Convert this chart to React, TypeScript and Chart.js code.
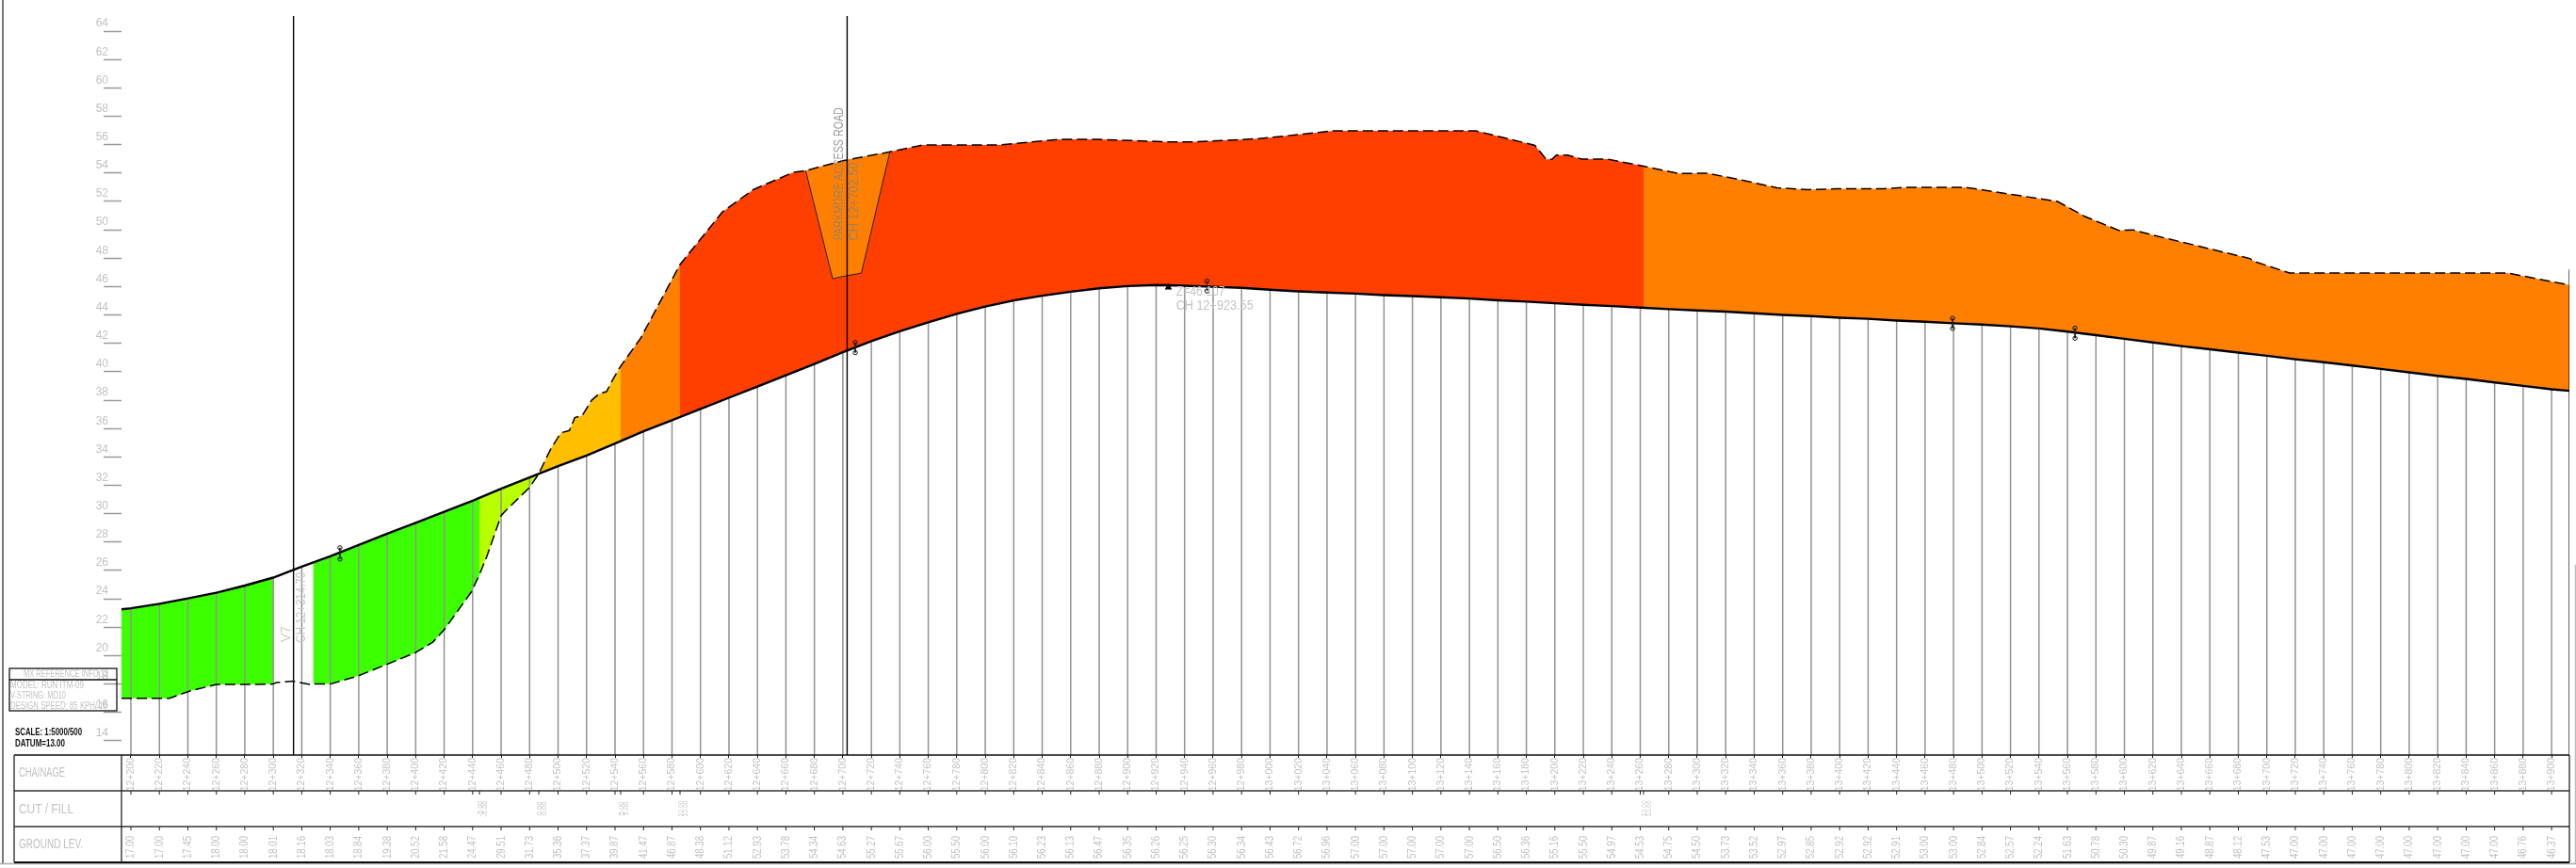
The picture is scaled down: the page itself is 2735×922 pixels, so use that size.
import React, { useEffect, useRef } from "react";
import { Chart, registerables } from "chart.js";

Chart.register(...registerables);

const levelTicks = [14,16,18,20,22,24,26,28,30,32,34,36,38,40,42,44,46,48,50,52,54,56,58,60,62,64];

const chainages = [
  12200,12220,12240,12260,12280,12300,12320,12340,12360,12380,12400,12420,12440,12460,12480,12500,12520,12540,12560,12580,
  12600,12620,12640,12660,12680,12700,12720,12740,12760,12780,12800,12820,12840,12860,12880,12900,12920,12940,12960,12980,
  13000,13020,13040,13060,13080,13100,13120,13140,13160,13180,13200,13220,13240,13260,13280,13300,13320,13340,13360,13380,
  13400,13420,13440,13460,13480,13500,13520,13540,13560,13580,13600,13620,13640,13660,13680,13700,13720,13740,13760,13780,
  13800,13820,13840,13860,13880,13900,
];

const designLevels = [
  23.34,23.65,24.03,24.43,24.94,25.50,26.28,27.00,27.80,28.59,29.35,30.14,30.92,31.76,32.56,33.35,34.10,34.94,35.80,36.59,
  37.38,38.17,38.95,39.76,40.55,41.38,42.16,42.85,43.48,44.08,44.59,45.03,45.36,45.64,45.88,46.04,46.11,46.06,45.99,45.91,
  45.78,45.66,45.58,45.51,45.40,45.33,45.25,45.16,45.03,44.94,44.83,44.72,44.63,44.52,44.41,44.32,44.24,44.12,44.01,43.92,
  43.81,43.73,43.61,43.53,43.42,43.33,43.20,43.05,42.83,42.58,42.32,42.07,41.81,41.59,41.35,41.13,40.88,40.67,40.44,40.20,
  39.96,39.71,39.50,39.25,39.01,38.77,
];

const tableGroundLevels = [
  "17.00","17.00","17.45","18.00","18.00","18.01","18.16","18.03","18.84","19.38","20.52","21.58","24.47","29.51","31.73","35.36","37.37","39.87","41.47","46.87",
  "48.38","51.12","52.93","53.78","54.34","54.63","55.27","55.67","56.00","55.50","56.00","56.10","56.23","56.13","56.47","56.35","56.26","56.25","56.30","56.34",
  "56.43","56.72","56.96","57.00","57.00","57.00","57.00","57.00","56.50","56.36","55.16","55.50","54.97","54.53","54.75","54.50","53.73","53.52","52.97","52.85",
  "52.92","52.92","52.91","53.00","53.00","52.84","52.57","52.24","51.63","50.78","50.30","49.87","49.16","48.87","48.12","47.53","47.00","47.00","47.00","47.00",
  "47.00","47.00","47.00","47.00","46.76","46.37",
];

const axisStart = 12193.4;
const axisEnd = 13912.5;
const levelMin = 13;
const levelMax = 65.86;
const designStartLevel = 23.26;
const designEndLevel = 38.66;

const groundChainage = [
  12193.4,12200,12220,12227,12242,12260,12280,12300,12302,12314,12326,12328,12340,12360,12380,12400,12412,12420,12439,12444.75,
  12450,12460,12463,12480,12486.421,12495,12502,12508,12511.7,12517,12523.6,12529,12534,12539,12543.967,12558,12585.638,12600,12615.4,12637,
  12665,12673.9,12700,12733,12756,12809,12852,12880,12928,12946,12992,13034,13044,13144.6,13180,13186,13194,13198,13201,13209,13219,13237,13262.298,
  13287,13307,13332,13356,13378,13398,13431,13448,13488,13553,13572,13596,13606,13619,13629,13688,13691,13716,13869,13912.5,
];
const groundLevel = [
  17.0,17.0,17.0,17.0,17.53,17.97,17.97,18.0,18.1,18.2,17.97,18.0,18.0,18.59,19.4,20.22,20.95,21.83,24.47,25.7,
  27.0,29.87,30.2,31.85,32.82,34.6,35.7,35.86,36.77,36.92,38.0,38.46,38.6,39.56,40.4,42.37,47.56,49.34,51.26,52.83,
  54.04,54.17,54.87,55.49,55.97,55.97,56.37,56.37,56.2,56.2,56.42,56.86,56.97,56.97,56.1,55.95,54.96,54.96,55.27,55.27,54.98,54.98,54.48,
  53.97,53.99,53.49,52.96,52.83,52.89,52.89,53.0,53.0,52.0,50.95,49.96,50.0,49.66,49.41,47.98,47.78,46.96,46.96,46.11,
];

const zoneStart = [12193.4,12328,12444.75,12486.421,12543.967,12585.638,13262.298];
const zoneEnd = [12300,12444.75,12486.421,12543.967,12585.638,13262.298,13912.5];
const zoneColour = ["#3cff00","#3cff00","#b8ff00","#ffbf00","#ff7f00","#ff3f00","#ff7f00"];

const pitChainage = [12673.9,12692.8,12700,12713,12733];
const pitLevel = [54.17,46.55,46.72,46.95,55.49];

const markerChainage = [12346.8,12346.8,12708.7,12708.7,12955.7,12955.7,13479.3,13479.3,13565.3,13565.3];
const markerLevel = [27.6,26.81,42.07,41.35,46.39,45.69,43.77,43.05,43.07,42.36];

const crownChainage = 12928.6;
const crownLevel = 45.95;

const crossingChainage = [12314.2,12703];
const crossingTop = 65.07;
const endLineTop = 47.2;

const cutFillChainage = [12444.75,12486.421,12543.967,12585.638,13262.298];
const cutFillText = ["-5.00","0.00","5.00","10.00","10.00"];

const rowTitles = ["CHAINAGE","CUT / FILL","GROUND LEV."];
const infoTitle = "MX REFERENCE INFO 13";
const infoLines = ["MODEL: RUN ITM-09","V-STRING: MD10","DESIGN SPEED: 85 KPH/ 16"];

const SANS = '"Liberation Sans",sans-serif';
const FAINT = "#c2c2c2";

function vtext(ctx: CanvasRenderingContext2D, s: string, x: number, y: number, font: string, color: string, maxW: number) {
  ctx.save();
  ctx.translate(x, y);
  ctx.rotate(-Math.PI / 2);
  ctx.font = font;
  ctx.fillStyle = color;
  ctx.textAlign = "center";
  ctx.textBaseline = "middle";
  ctx.fillText(s, 0, 0, maxW);
  ctx.restore();
}

function hline(ctx: CanvasRenderingContext2D, x0: number, x1: number, y: number, w: number, c: string) {
  ctx.strokeStyle = c;
  ctx.lineWidth = w;
  ctx.beginPath();
  ctx.moveTo(x0, y);
  ctx.lineTo(x1, y);
  ctx.stroke();
}
function vline(ctx: CanvasRenderingContext2D, x: number, y0: number, y1: number, w: number, c: string) {
  ctx.strokeStyle = c;
  ctx.lineWidth = w;
  ctx.beginPath();
  ctx.moveTo(x, y0);
  ctx.lineTo(x, y1);
  ctx.stroke();
}

const drawingFurniture = {
  id: "drawingFurniture",
  afterDatasetsDraw(chart: any) {
    const { ctx, scales } = chart;
    const xs = scales.x;
    const ys = scales.y;
    const L = 15, C = 129, R = 2728, T = 802, R1 = 840, R2 = 878, B = 916;
    ctx.save();

    // sheet frame
    vline(ctx, 3, 0, 917, 2, "#777");
    hline(ctx, 0, 2735, 917.5, 1.5, "#aaa");
    vline(ctx, 2734.5, 600, 917, 1.5, "#bbb");

    // table
    hline(ctx, L, R, T, 1.3, "#111");
    hline(ctx, L, R, R1, 1.6, "#333");
    hline(ctx, L, R, R2, 1.6, "#333");
    hline(ctx, L, R, B, 2, "#111");
    vline(ctx, L, T, B, 1.3, "#222");
    vline(ctx, C, T, B, 1.3, "#222");
    vline(ctx, R, T, B, 1.3, "#222");

    const titleWidths = [49, 58, 68];
    rowTitles.forEach((t, i) => {
      ctx.font = `14px ${SANS}`;
      ctx.fillStyle = FAINT;
      ctx.textAlign = "left";
      ctx.textBaseline = "middle";
      ctx.fillText(t, 20, [821, 860, 897][i], titleWidths[i]);
    });

    chainages.forEach((c, i) => {
      const x = xs.getPixelForValue(c);
      vline(ctx, x, R1, R1 + 4, 1, "#222");
      vline(ctx, x, R2, R2 + 4, 1, "#222");
      vtext(ctx, tableGroundLevels[i], x, 900, `12.5px ${SANS}`, FAINT, 24);
    });

    cutFillChainage.forEach((c, i) => {
      const x = xs.getPixelForValue(c);
      vline(ctx, x, R1, R1 + 4, 1, "#222");
      vtext(ctx, cutFillText[i], x + 0.5, 859, `7.5px ${SANS}`, FAINT, 17);
      vtext(ctx, cutFillText[i], x + 5.5, 859, `7.5px ${SANS}`, FAINT, 17);
    });

    // reference box
    ctx.strokeStyle = "#111";
    ctx.lineWidth = 1.3;
    ctx.strokeRect(10, 710, 114, 45);
    hline(ctx, 10, 124, 722, 1.3, "#111");
    ctx.font = `10px ${SANS}`;
    ctx.fillStyle = FAINT;
    ctx.textBaseline = "middle";
    ctx.textAlign = "center";
    ctx.fillText(infoTitle, 70, 716, 90);
    ctx.textAlign = "left";
    const infoWidths = [78, 59, 103];
    infoLines.forEach((t, i) => ctx.fillText(t, 11, 728 + i * 11.3, infoWidths[i]));

    // scale note
    ctx.font = `bold 11px ${SANS}`;
    ctx.fillStyle = "#111";
    ctx.fillText("SCALE: 1:5000/500", 16, 777.5, 71);
    ctx.fillText("DATUM=13.00", 16, 790, 53);

    // annotations
    const dark = "rgba(130,130,130,0.8)";
    const px = (c: number) => xs.getPixelForValue(c);
    const py = (v: number) => ys.getPixelForValue(v);
    vtext(ctx, "PARKMORE ACCESS ROAD", px(12697.5), py(53.94), `14px ${SANS}`, dark, 141);
    vtext(ctx, "CH 12+702.50", px(12708), py(52), `14px ${SANS}`, dark, 83);
    vtext(ctx, "V7", px(12309.5), py(21.52), `14px ${SANS}`, "#c8c8c8", 20);
    vtext(ctx, "CH 12+314.70", px(12319.5), py(23.4), `14px ${SANS}`, "#c8c8c8", 75);
    ctx.font = `14px ${SANS}`;
    ctx.fillStyle = "#c4c4c4";
    ctx.textAlign = "left";
    ctx.fillText("Z=46.107", px(12934), py(45.63), 52);
    ctx.fillText("CH 12+923.55", px(12934), py(44.65), 82);
    ctx.restore();
  },
};

export default function App() {
  const ref = useRef<HTMLCanvasElement | null>(null);
  useEffect(() => {
    document.body.style.margin = "0";
    const ground = groundChainage.map((x, i) => ({ x, y: groundLevel[i] }));
    const design = [
      { x: axisStart, y: designStartLevel },
      ...chainages.map((x, i) => ({ x, y: designLevels[i] })),
      { x: axisEnd, y: designEndLevel },
    ];
    const DESIGN = 0;
    const GROUND = 1;
    const datasets: any[] = [
      { type: "line", data: design, borderColor: "#000", borderWidth: 2.4, pointRadius: 0, fill: false, order: 2 },
      { type: "line", data: ground, borderColor: "#000", borderWidth: 1.5, borderDash: [11, 5], pointRadius: 0, fill: false, order: 2 },
      ...zoneColour.map((c, i) => ({
        type: "line",
        data: ground.filter((p) => p.x >= zoneStart[i] && p.x <= zoneEnd[i]),
        borderWidth: 0,
        pointRadius: 0,
        fill: { target: DESIGN, above: c, below: c },
        order: 10,
      })),
      {
        type: "line",
        data: pitChainage.map((x, i) => ({ x, y: pitLevel[i] })),
        borderColor: "#222",
        borderWidth: 1,
        pointRadius: 0,
        fill: { target: GROUND, above: "#ff7f00", below: "#ff7f00" },
        order: 9,
      },
      {
        type: "bar",
        data: chainages.map((x, i) => ({ x, y: designLevels[i] })),
        backgroundColor: "#939393",
        barThickness: 1.5,
        inflateAmount: 0,
        borderWidth: 0,
        grouped: false,
        order: 5,
      },
      ...crossingChainage.map((x) => ({
        type: "line",
        data: [{ x, y: levelMin }, { x, y: crossingTop }],
        borderColor: "#000",
        borderWidth: 1.4,
        pointRadius: 0,
        fill: false,
        order: 1,
      })),
      {
        type: "line",
        data: [{ x: axisEnd, y: levelMin }, { x: axisEnd, y: endLineTop }],
        borderColor: "#000",
        borderWidth: 1.2,
        pointRadius: 0,
        fill: false,
        order: 1,
      },
      ...markerChainage
        .filter((_, i) => i % 2 === 0)
        .map((_, k) => ({
          type: "line",
          data: [
            { x: markerChainage[k * 2], y: markerLevel[k * 2] },
            { x: markerChainage[k * 2 + 1], y: markerLevel[k * 2 + 1] },
          ],
          borderColor: "#222",
          borderWidth: 1,
          pointRadius: 2.2,
          pointBorderWidth: 1,
          pointBorderColor: "#111",
          pointBackgroundColor: "rgba(0,0,0,0)",
          fill: false,
          order: 0,
        })),
      {
        type: "line",
        data: [{ x: crownChainage, y: crownLevel }],
        pointStyle: "triangle",
        pointRadius: 4.5,
        pointBackgroundColor: "#000",
        pointBorderColor: "#000",
        pointBorderWidth: 0,
        showLine: false,
        order: 0,
      },
    ];
    const chart = new Chart(ref.current as HTMLCanvasElement, {
      type: "line",
      data: { datasets },
      plugins: [drawingFurniture],
      options: {
        animation: false,
        responsive: false,
        devicePixelRatio: 1,
        layout: { padding: { left: 0, right: 7, top: 0, bottom: 0 } },
        plugins: { legend: { display: false }, tooltip: { enabled: false }, title: { display: false } },
        elements: { line: { tension: 0 } },
        scales: {
          x: {
            type: "linear",
            min: axisStart,
            max: axisEnd,
            offset: false,
            afterBuildTicks: (s: any) => {
              s.ticks = chainages.map((value) => ({ value }));
            },
            afterFit: (s: any) => {
              s.height = 120;
            },
            border: { display: false },
            grid: { offset: false, drawOnChartArea: false, drawTicks: true, tickLength: 3, tickColor: "#222", tickWidth: 1 },
            ticks: {
              autoSkip: false,
              minRotation: 90,
              maxRotation: 90,
              padding: 0,
              color: FAINT,
              font: { family: SANS, size: 10.5 },
              callback: (v: any) => `${Math.floor(Number(v) / 1000)}+${String(Number(v) % 1000).padStart(3, "0")}`,
            },
          },
          y: {
            type: "linear",
            min: levelMin,
            max: levelMax,
            afterBuildTicks: (s: any) => {
              s.ticks = levelTicks.map((value) => ({ value }));
            },
            afterFit: (s: any) => {
              s.width = 129;
            },
            border: { display: false },
            grid: { drawOnChartArea: false, drawTicks: true, tickLength: 19, tickColor: "#9a9a9a", tickWidth: 1.5 },
            ticks: {
              autoSkip: false,
              padding: -5,
              labelOffset: -8,
              color: FAINT,
              font: { family: SANS, size: 12 },
            },
          },
        },
      },
    } as any);
    return () => chart.destroy();
  }, []);
  return <canvas ref={ref} width={2735} height={922} style={{ display: "block", position: "absolute", left: 0, top: 0 }} />;
}
